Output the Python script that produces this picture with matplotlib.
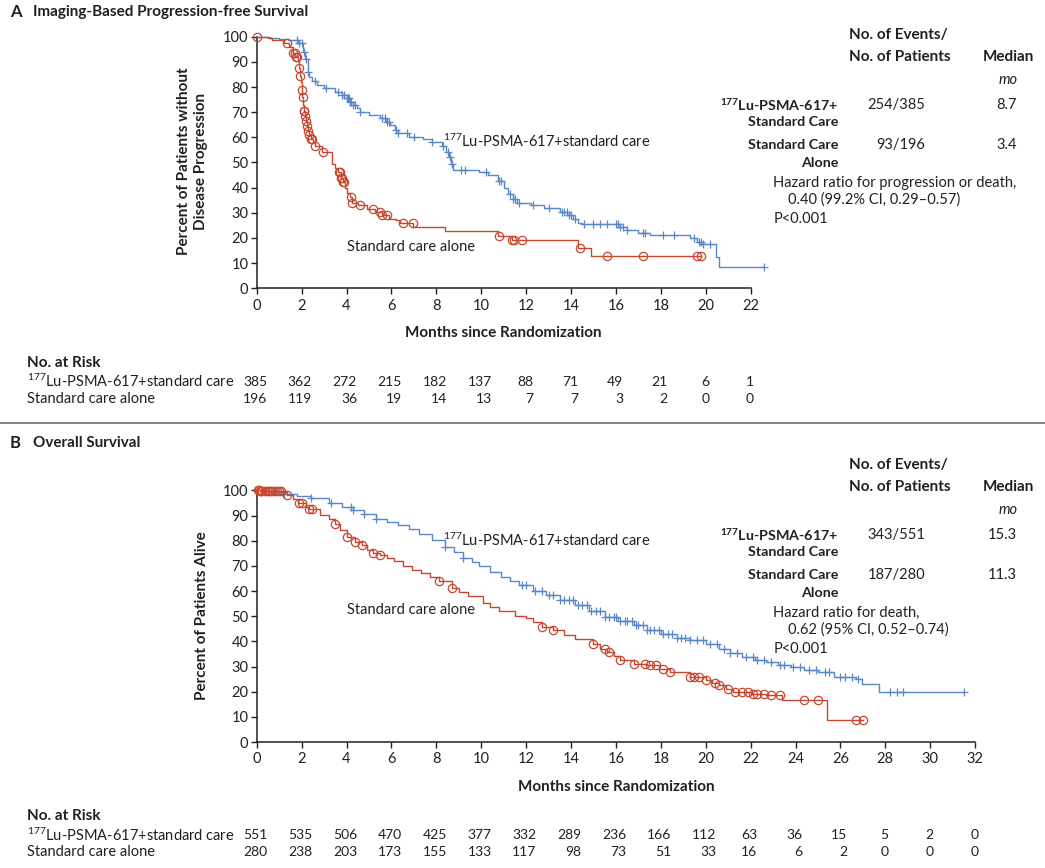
import numpy as np
import matplotlib
matplotlib.use('Agg')
import matplotlib.pyplot as plt
from matplotlib import transforms
from matplotlib.lines import Line2D

FONT = 'Lato'
plt.rcParams['font.family'] = [FONT, 'DejaVu Sans']
plt.rcParams['mathtext.fontset'] = 'custom'
plt.rcParams['mathtext.rm'] = FONT
plt.rcParams['mathtext.bf'] = FONT + ':bold'
plt.rcParams['mathtext.it'] = FONT + ':italic'

BLUE = '#5b87c7'
RED = '#c9472f'
INK = '#231f20'
W, H = 1045, 868

# ---------------- Panel A data (imaging-based PFS) ----------------
a_lu_t = [0, 0.6, 1.0, 1.4, 1.85, 2.05, 2.15, 2.28, 2.32, 2.45, 2.7, 3.0, 3.5, 3.8, 4.0, 4.15, 4.3,
          4.45, 4.6, 5.0, 5.5, 5.75, 5.95, 6.15, 6.3, 6.8, 7.4, 7.8, 8.25, 8.45, 8.55, 8.65, 8.75,
          9.9, 10.3, 10.75, 11.0, 11.2, 11.4, 11.6, 12.2, 12.8, 13.5, 13.9, 14.1, 14.3, 14.5, 16.2,
          16.5, 17.0, 17.5, 19.3, 19.6, 19.9, 20.45, 20.6, 22.6]
a_lu_s = [100, 99.5, 99, 98.5, 97.5, 94, 91, 86, 84, 82.5, 81, 79.5, 78, 77, 75.5, 74, 72.8,
          71.5, 70.2, 69, 67.5, 66, 64.8, 63, 61.6, 60.3, 59.5, 58.3, 56.5, 54, 52, 49.5, 47.2,
          46.3, 45, 42.5, 40, 37.5, 35.3, 34, 33, 32, 30.5, 29, 27.5, 26, 25.5, 24.5,
          23, 22, 21, 19.8, 18.4, 17.5, 12.5, 8.6, 8.6]
a_lu_cens = [1.8, 1.9, 2.0, 2.1, 2.2, 2.3, 2.6, 3.1, 3.6, 3.8, 3.9, 4.0, 4.05, 4.1, 4.15, 4.2,
             4.3, 4.4, 4.6, 5.6, 5.7, 5.8, 5.9, 6.2, 6.3, 6.7, 7.0, 7.8, 8.3, 8.5, 8.6, 8.7, 9.1,
             9.3, 10.2, 10.8, 10.9, 11.3, 11.4, 11.5, 11.7, 12.3, 13.0, 13.6, 13.7, 13.8, 13.9,
             14.0, 14.2, 14.6, 15.0, 15.3, 15.6, 16.0, 16.1, 16.2, 16.3, 16.5, 17.2, 17.3, 18.1,
             18.6, 19.5, 19.7, 19.8, 19.9, 20.2, 22.6]

a_sc_t = [0, 0.5, 0.7, 1.2, 1.45, 1.6, 1.72, 1.82, 1.9, 1.95, 1.98, 2.0, 2.03, 2.06, 2.09, 2.13,
          2.18, 2.23, 2.28, 2.33, 2.4, 2.5, 2.6, 2.9, 3.35, 3.5, 3.62, 3.75, 3.85, 3.92, 4.0,
          4.15, 4.25, 4.5, 4.9, 5.25, 5.6, 5.9, 6.2, 6.4, 6.96, 8.4, 10.75, 11.35, 14.3, 14.9,
          19.8]
a_sc_s = [100, 99.5, 98.7, 97.5, 95.8, 93.5, 92, 90.5, 87.5, 84.5, 82, 79, 76, 73, 70.5, 68.5,
          66.5, 64.5, 62.5, 61, 59.5, 58, 56.5, 54.3, 49.5, 48, 46.4, 44, 42.4, 40, 38,
          36.4, 34, 33, 31.5, 30.4, 29.3, 27.5, 27, 26.1, 24.3, 22.8, 20.9, 19.0, 16.2, 12.8,
          12.8]
a_sc_cens = [0.0, 1.35, 1.6, 1.7, 1.75, 1.8, 1.9, 1.95, 2.0, 2.05, 2.1, 2.12, 2.15, 2.2, 2.25,
             2.3, 2.35, 2.4, 2.45, 2.6, 2.96, 3.65, 3.7, 3.75, 3.8, 3.85, 3.9, 4.2, 4.25, 4.6,
             5.2, 5.5, 5.6, 5.8, 6.5, 6.95, 10.8, 11.35, 11.45, 11.8, 14.4, 15.6, 17.2, 19.6, 19.8]

a_ticks = list(range(0, 23, 2))
a_risk_lu = [385, 362, 272, 215, 182, 137, 88, 71, 49, 21, 6, 1]
a_risk_sc = [196, 119, 36, 19, 14, 13, 7, 7, 3, 2, 0, 0]

# ---------------- Panel B data (overall survival) ----------------
b_lu_t = [0, 0.5, 1.2, 1.8, 2.4, 3.2, 3.8, 4.3, 4.8, 5.3, 5.8, 6.3, 6.8, 7.25, 7.8, 8.4, 8.8, 9.2,
          9.6, 9.9, 10.4, 10.9, 11.3, 11.7, 12.3, 12.9, 13.5, 14.2, 14.8, 15.5, 16.1, 16.8, 17.4,
          18.0, 18.7, 19.3, 20.0, 20.6, 21.1, 21.6, 22.2, 22.7, 23.2, 23.8, 24.4, 25.0, 25.7,
          26.7, 26.96, 27.7, 31.5]
b_lu_s = [100, 99.5, 98.7, 97.8, 96.8, 95, 93.5, 92.2, 90.8, 88.8, 87.5, 86.1, 84.5, 82.8, 80.3,
          77.5, 75.5, 73.2, 71.5, 69.8, 67.5, 65.6, 64, 62.3, 60.2, 58.3, 56.5, 54.3, 52, 49.7,
          48, 46.4, 44.7, 43, 41.5, 40.4, 38.8, 37.1, 35.5, 33.8, 32.7, 31.8, 30.8, 29.8, 28.8,
          27.8, 25.8, 25.2, 23.2, 19.9, 19.9]
b_lu_cens = [1.2, 2.4, 3.3, 4.2, 4.3, 4.8, 5.3, 8.4, 9.2, 11.8, 12.0, 12.4, 12.7, 13.0, 13.2,
             13.5, 13.7, 13.9, 14.1, 14.3, 14.5, 14.7, 14.9, 15.1, 15.3, 15.5, 15.7, 15.9, 16.0,
             16.2, 16.4, 16.5, 16.7, 16.9, 17.0, 17.2, 17.4, 17.5, 17.7, 17.9, 18.1, 18.3, 18.5,
             18.7, 18.9, 19.1, 19.3, 19.6, 19.9, 20.2, 20.5, 20.8, 21.1, 21.4, 21.8, 22.1, 22.3,
             22.6, 22.9, 23.3, 23.5, 23.9, 24.2, 24.6, 24.9, 25.3, 25.5, 26.0, 26.2, 26.5, 26.8,
             28.2, 28.5, 28.8, 31.5]

b_sc_t = [0, 0.15, 1.2, 1.37, 1.6, 1.85, 2.2, 2.35, 2.8, 3.2, 3.5, 3.7, 4.0, 4.38, 4.68, 4.9,
          5.2, 5.5, 5.8, 6.1, 6.5, 6.9, 7.3, 7.7, 8.1, 8.7, 9.0, 9.4, 10.1, 10.4, 10.8, 11.5,
          12.0, 12.3, 12.7, 13.2, 13.7, 14.2, 15.0, 15.3, 15.6, 15.9, 16.2, 16.8, 17.4, 17.9,
          18.4, 19.3, 20.0, 20.3, 20.6, 20.9, 21.2, 22.0, 22.7, 23.4, 25.4, 27.0]
b_sc_s = [100, 99.6, 99.3, 98.2, 96.5, 95, 93.5, 92.7, 90.3, 88.5, 86.6, 84.4, 81.3, 79.5, 78.2,
          76.5, 75.1, 74.2, 73, 71.8, 69.8, 68.5, 67.2, 65.5, 63.9, 61.2, 59.5, 57.9, 55.3, 53.6,
          52, 50, 49.3, 47.5, 45.7, 44.4, 42.5, 41.1, 38.8, 37, 35.8, 34, 32.5, 31.1, 30.5, 29,
          27.8, 25.8, 24.5, 23.5, 22.5, 21, 19.9, 19.2, 18.5, 16.6, 8.6, 8.6]
b_sc_cens = [0.05, 0.1, 0.15, 0.2, 0.25, 0.35, 0.45, 0.55, 0.6, 0.7, 0.8, 0.9, 1.0, 1.1, 1.37,
             1.9, 2.0, 2.35, 2.45, 3.5, 4.0, 4.4, 4.7, 5.2, 5.5, 8.1, 8.7, 12.7, 13.2, 15.0, 15.5,
             15.7, 16.2, 16.8, 17.3, 17.5, 17.8, 18.1, 18.4, 19.3, 19.5, 19.7, 20.0, 20.4, 20.6,
             21.0, 21.3, 21.6, 21.9, 22.1, 22.3, 22.6, 22.9, 23.3, 24.4, 25.0, 26.7, 27.0]

b_ticks = list(range(0, 33, 2))
b_risk_lu = [551, 535, 506, 470, 425, 377, 332, 289, 236, 166, 112, 63, 36, 15, 5, 2, 0]
b_risk_sc = [280, 238, 203, 173, 155, 133, 117, 98, 73, 51, 33, 16, 6, 2, 0, 0, 0]

LU_LABEL = r'$^{177}$Lu-PSMA-617+standard care'
SC_LABEL = 'Standard care alone'

FS = 10.5      # regular text
FSB = 11       # bold labels
FST = 10       # tick labels / risk numbers


def fx(px):
    return px / W


def fy(py):
    return 1 - py / H


def step_at(t, s, tc):
    t = np.asarray(t)
    s = np.asarray(s)
    idx = np.searchsorted(t, np.asarray(tc), side='right') - 1
    return s[np.clip(idx, 0, len(s) - 1)]


fig = plt.figure(figsize=(W / 100, H / 100), dpi=100)


def km_axes(rect, xmax, ticks):
    ax = fig.add_axes(rect)
    ax.set_xlim(0, xmax)
    ax.set_ylim(0, 100)
    for sp in ['top', 'right']:
        ax.spines[sp].set_visible(False)
    for sp in ['left', 'bottom']:
        ax.spines[sp].set_color(INK)
        ax.spines[sp].set_linewidth(1.1)
    ax.spines['bottom'].set_bounds(0, ticks[-1])
    ax.spines['left'].set_bounds(0, 100)
    ax.set_xticks(ticks)
    ax.set_yticks(range(0, 101, 10))
    ax.tick_params(axis='both', direction='out', length=4.5, width=1.0, color=INK,
                   labelsize=FST + 0.5, labelcolor=INK)
    ax.tick_params(axis='x', pad=3.0)
    ax.tick_params(axis='y', pad=1.5)
    ax.patch.set_alpha(0)
    return ax


def draw_curves(ax, lu_t, lu_s, lu_c, sc_t, sc_s, sc_c):
    ax.plot(lu_t, lu_s, drawstyle='steps-post', color=BLUE, lw=1.0, clip_on=False, zorder=3)
    ax.plot(lu_c, step_at(lu_t, lu_s, lu_c), ls='none', marker='+', ms=6, mew=0.9,
            color=BLUE, clip_on=False, zorder=3)
    ax.plot(sc_t, sc_s, drawstyle='steps-post', color=RED, lw=1.0, clip_on=False, zorder=4)
    ax.plot(sc_c, step_at(sc_t, sc_s, sc_c), ls='none', marker='o', ms=6, mew=0.9,
            mfc='none', mec=RED, clip_on=False, zorder=4)


def risk_table(ax, ticks, lu, sc, y_head, y1, y2):
    fig.text(fx(26.7), fy(y_head), 'No. at Risk', fontsize=FSB, fontweight='bold', color=INK,
             va='center', ha='left')
    fig.text(fx(26.7), fy(y1), LU_LABEL, fontsize=FS, color=INK, va='center', ha='left')
    fig.text(fx(26.7), fy(y2), SC_LABEL, fontsize=FS, color=INK, va='center', ha='left')
    for tk, a, b in zip(ticks, lu, sc):
        ndig = max(len(str(a)), len(str(b)))
        trans = transforms.offset_copy(
            transforms.blended_transform_factory(ax.transData, fig.transFigure),
            fig=fig, x=ndig * 3.5, y=0, units='dots')
        fig.text(tk, fy(y1), str(a), transform=trans, fontsize=FST, color=INK,
                 ha='right', va='center')
        fig.text(tk, fy(y2), str(b), transform=trans, fontsize=FST, color=INK,
                 ha='right', va='center')


def side_panel(y0, lu_ev, sc_ev, lu_med, sc_med, hr1, hr2):
    # y0 = y pixel of "No. of Events/"
    bold = dict(fontsize=FSB, fontweight='bold', color=INK, va='center')
    rowb = dict(fontsize=10.3, fontweight='bold', color=INK, va='center')
    reg = dict(fontsize=FS, color=INK, va='center')
    fig.text(fx(849), fy(y0), 'No. of Events/', ha='left', **bold)
    fig.text(fx(849), fy(y0 + 21.7), 'No. of Patients', ha='left', **bold)
    fig.text(fx(1008), fy(y0 + 21.7), 'Median', ha='center', **bold)
    fig.text(fx(1008), fy(y0 + 45), 'mo', ha='center', style='italic', **reg)
    fig.text(fx(838), fy(y0 + 70), r'$^{\mathbf{177}}$Lu-PSMA-617+', ha='right', **rowb)
    fig.text(fx(838), fy(y0 + 86.7), 'Standard Care', ha='right', **rowb)
    fig.text(fx(925), fy(y0 + 70), lu_ev, ha='right', **reg)
    fig.text(fx(1017), fy(y0 + 70), lu_med, ha='right', **reg)
    fig.text(fx(838), fy(y0 + 110), 'Standard Care', ha='right', **rowb)
    fig.text(fx(838), fy(y0 + 127.7), 'Alone', ha='right', **rowb)
    fig.text(fx(925), fy(y0 + 110), sc_ev, ha='right', **reg)
    fig.text(fx(1017), fy(y0 + 110), sc_med, ha='right', **reg)
    fig.text(fx(773.3), fy(y0 + 148.3), hr1, ha='left', **reg)
    fig.text(fx(788.3), fy(y0 + 165), hr2, ha='left', **reg)
    fig.text(fx(773.3), fy(y0 + 184), 'P<0.001', ha='left', **reg)


PXM = 22.45  # pixels per month
# ---------------- Panel A ----------------
axA = km_axes([fx(256.7), fy(288.3), fx(22.7 * PXM), 251.6 / H], 22.7, a_ticks)
draw_curves(axA, a_lu_t, a_lu_s, a_lu_cens, a_sc_t, a_sc_s, a_sc_cens)
axA.text(8.31, 58.3, LU_LABEL, fontsize=FS, color=INK, va='center', ha='left')
axA.text(4.01, 16.5, SC_LABEL, fontsize=FS, color=INK, va='center', ha='left')
fig.text(fx(10), fy(12), 'A', fontsize=12, fontweight='bold', color=INK, va='center')
fig.text(fx(33), fy(12), 'Imaging-Based Progression-free Survival', fontsize=FSB,
         fontweight='bold', color=INK, va='center')
fig.text(fx(192.5), fy(161), 'Percent of Patients without\nDisease Progression', rotation=90,
         fontsize=FSB, fontweight='bold', color=INK, va='center', ha='center', linespacing=1.2)
fig.text(fx(256.7 + 11 * PXM), fy(333), 'Months since Randomization', fontsize=FSB,
         fontweight='bold', color=INK, va='center', ha='center')
risk_table(axA, a_ticks, a_risk_lu, a_risk_sc, 362.7, 381.7, 399.3)
side_panel(35, '254/385', '93/196', '8.7', '3.4',
           'Hazard ratio for progression or death,', '0.40 (99.2% CI, 0.29\u20130.57)')

# separator
fig.add_artist(Line2D([0, 1], [fy(423.3), fy(423.3)], transform=fig.transFigure,
                      color='#7a7a7a', lw=1.3))

# ---------------- Panel B ----------------
axB = km_axes([fx(256.7), fy(742.0), fx(32 * PXM), 251.6 / H], 32, b_ticks)
draw_curves(axB, b_lu_t, b_lu_s, b_lu_cens, b_sc_t, b_sc_s, b_sc_cens)
axB.text(8.31, 80.3, LU_LABEL, fontsize=FS, color=INK, va='center', ha='left')
axB.text(4.01, 52.5, SC_LABEL, fontsize=FS, color=INK, va='center', ha='left')
fig.text(fx(10), fy(442.7), 'B', fontsize=12, fontweight='bold', color=INK, va='center')
fig.text(fx(33), fy(442.7), 'Overall Survival', fontsize=FSB, fontweight='bold', color=INK,
         va='center')
fig.text(fx(201.7), fy(615.8), 'Percent of Patients Alive', rotation=90, fontsize=FSB,
         fontweight='bold', color=INK, va='center', ha='center')
fig.text(fx(256.7 + 16 * PXM), fy(786.7), 'Months since Randomization', fontsize=FSB,
         fontweight='bold', color=INK, va='center', ha='center')
risk_table(axB, b_ticks, b_risk_lu, b_risk_sc, 815.7, 835, 852.3)
side_panel(465, '343/551', '187/280', '15.3', '11.3',
           'Hazard ratio for death,', '0.62 (95% CI, 0.52\u20130.74)')

fig.savefig('out.png', dpi=100, facecolor='white')
